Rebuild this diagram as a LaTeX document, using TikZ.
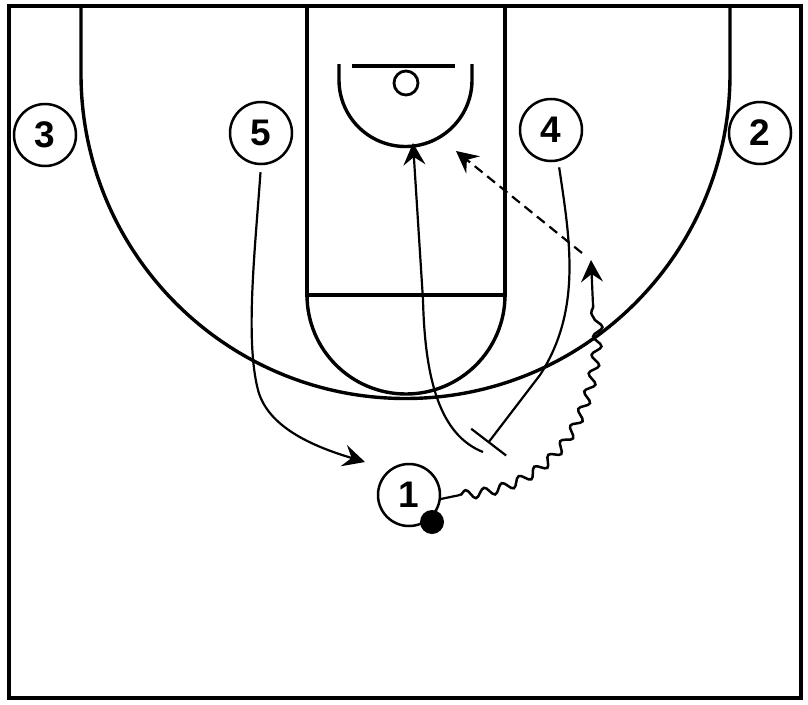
\documentclass[tikz,border=0pt]{standalone}
\usepackage{fontspec}
\setmainfont{Liberation Sans}
\usepackage{tikz}
\usetikzlibrary{arrows.meta,decorations.pathmorphing}

\begin{document}
\begin{tikzpicture}[x=1pt, y=-1pt,
  court/.style={line width=3.4pt},
  player/.style={circle, draw, line width=2.5pt, minimum size=62pt, inner sep=0pt, font=\fontsize{37}{40}\selectfont\bfseries},
  ball/.style={circle, fill, minimum size=24pt, inner sep=0pt},
  move/.style={line width=2.2pt, -{Stealth[length=22pt, width=22pt, inset=8pt]}},
  pass/.style={move, dash pattern=on 10pt off 6pt},
  screen/.style={line width=2.2pt, -{Bar[width=44pt]}},
  dribble/.style={line width=2.5pt, decorate, decoration={snake, amplitude=4.5pt, segment length=19pt}}]

\useasboundingbox (0,0) rectangle (808,704);

% Half court
\draw[line width=3.8pt] (9,6) rectangle (801,698);
\draw[court] (81,6) -- (81,74) arc (180:0:324.5) -- (730,6);
\draw[court] (307,6) -- (307,295) -- (505,295) -- (505,6);
\draw[court] (307,295) arc (180:0:99);

% Basket and restricted area
\draw[court] (339,64) -- (339,80) arc (180:0:66.5) -- (472,64);
\draw[court] (352,66) -- (455,66);
\draw[line width=2.8pt] (406,83) circle (12);

% Players
\node[player] (p3) at (45,135) {3};
\node[player] (p5) at (261,133) {5};
\node[player] (p4) at (551,130) {4};
\node[player] (p2) at (760,133) {2};
\node[player] (p1) at (409,495) {1};
\node[ball] (ball) at (432,522) {};

\coordinate (cut5) at (365,462);
\coordinate (scr) at (488,443);
\coordinate (roll) at (483,452);
\coordinate (rim) at (413,143);
\coordinate (d0) at (460,495);
\coordinate (d1) at (593,305);
\coordinate (d2) at (591,260);
\coordinate (pass0) at (582,253);
\coordinate (pass1) at (456,151);

% 5 cuts to the ball
\draw[move, shorten <=7pt] (p5.south) .. controls (255,250) and (245,340) .. (258,390)
  .. controls (268,428) and (315,447) .. (cut5);

% 4 sets the screen and rolls
\draw[screen, shorten <=6pt] (p4.-77) .. controls (570,240) and (582,310) .. (540,375) -- (scr);
\draw[move] (roll) .. controls (440,435) and (425,380) .. (423,300) -- (rim);

% 1 dribbles off the screen and passes
\draw[line width=2.2pt] (p1.-7) -- (d0);
\draw[dribble] (d0) .. controls (540,490) and (598,430) .. (d1);
\draw[move] (d1) -- (d2);
\draw[pass] (pass0) -- (pass1);

\end{tikzpicture}
\end{document}
